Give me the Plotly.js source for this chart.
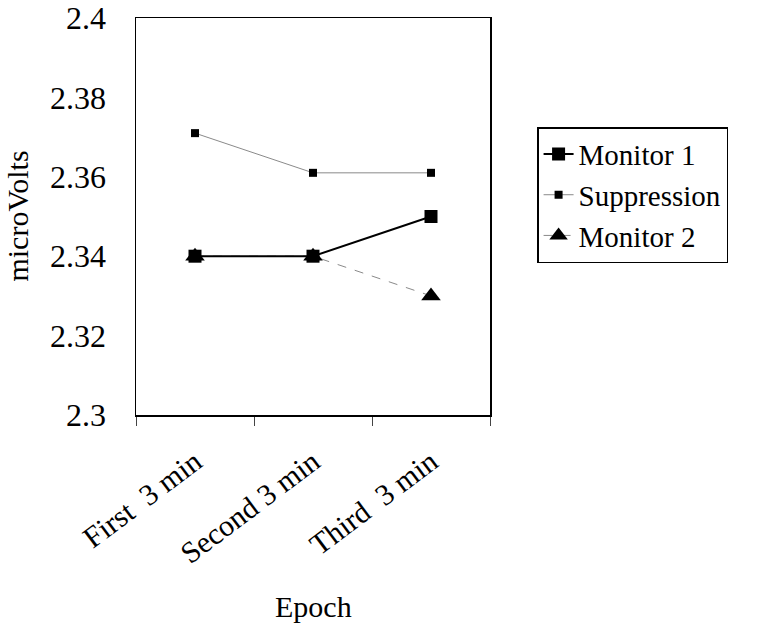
<!DOCTYPE html>
<html>
<head>
<meta charset="utf-8">
<script src="https://cdn.plot.ly/plotly-3.0.1.min.js"></script>
<style>
html,body{margin:0;padding:0;background:#fff;}
#chart{width:768px;height:626px;}
#note{position:absolute;left:700px;top:600px;width:60px;font:10px "Liberation Serif", serif;color:#fff;z-index:10;white-space:nowrap;overflow:hidden;}
</style>
</head>
<body>
<div id="chart"></div>
<div id="note"></div>
<script>
const categories = ["First  3 min", "Second 3 min", "Third  3 min"];
const monitor1 = [2.34, 2.34, 2.35];
const suppression = [2.371, 2.361, 2.361];
const monitor2 = [2.34, 2.34, 2.33];
const yTickVals = [2.3, 2.32, 2.34, 2.36, 2.38, 2.4];
const yTickText = ["2.3", "2.32", "2.34", "2.36", "2.38", "2.4"];
const font = "Liberation Serif";

const traces = [
  {x: categories, y: monitor2, name: "Monitor 2", type: "scatter", mode: "lines+markers",
   line: {color: "#8a8a8a", width: 1, dash: "dash"}, marker: {symbol: "triangle-up", size: 17, color: "#000"}, legendrank: 3},
  {x: categories, y: suppression, name: "Suppression", type: "scatter", mode: "lines+markers",
   line: {color: "#8a8a8a", width: 1}, marker: {symbol: "square", size: 8, color: "#000"}, legendrank: 2},
  {x: categories, y: monitor1, name: "Monitor 1", type: "scatter", mode: "lines+markers",
   line: {color: "#000", width: 2}, marker: {symbol: "square", size: 13, color: "#000"}, legendrank: 1}
];

const layout = {
  width: 768, height: 626,
  margin: {l: 136, r: 278, t: 18, b: 211},
  font: {family: font, color: "#000"},
  showlegend: true,
  legend: {x: 1.133, y: 0.725, xanchor: "left", yanchor: "top", bordercolor: "#000", borderwidth: 1.5,
    font: {family: font, size: 29, color: "#000"}},
  xaxis: {type: "category", range: [-0.5, 2.5], tickson: "boundaries", ticks: "outside", ticklen: 9,
    tickangle: -37, ticklabelstandoff: 16, tickfont: {family: font, size: 30, color: "#000"},
    showline: true, linecolor: "#000", linewidth: 1.5, mirror: true, showgrid: false, zeroline: false},
  yaxis: {range: [2.3, 2.4], tickvals: yTickVals, ticktext: yTickText, ticks: "", ticklabelstandoff: 22,
    tickfont: {family: font, size: 32, color: "#000"},
    showline: true, linecolor: "#000", linewidth: 1.5, mirror: true, showgrid: false, zeroline: false},
  annotations: [
    {text: "microVolts", xref: "paper", yref: "paper", x: -0.336, y: 0.5, xanchor: "center", yanchor: "middle",
     textangle: -90, showarrow: false, font: {family: font, size: 30, color: "#000"}},
    {text: "Epoch", xref: "paper", yref: "paper", x: 0.5, y: -0.4836, xanchor: "center", yanchor: "middle",
     showarrow: false, font: {family: font, size: 30, color: "#000"}}
  ]
};

Plotly.newPlot("chart", traces, layout, {displayModeBar: false, staticPlot: true}).then(function(){
  const info = [];
  document.querySelectorAll("#chart text").forEach(function(t){
    info.push(getComputedStyle(t).fontFamily);
  });
  window.textFontInfo = info;
  document.getElementById("note").textContent = info.length + " " + info[0];
});
</script>
</body>
</html>
